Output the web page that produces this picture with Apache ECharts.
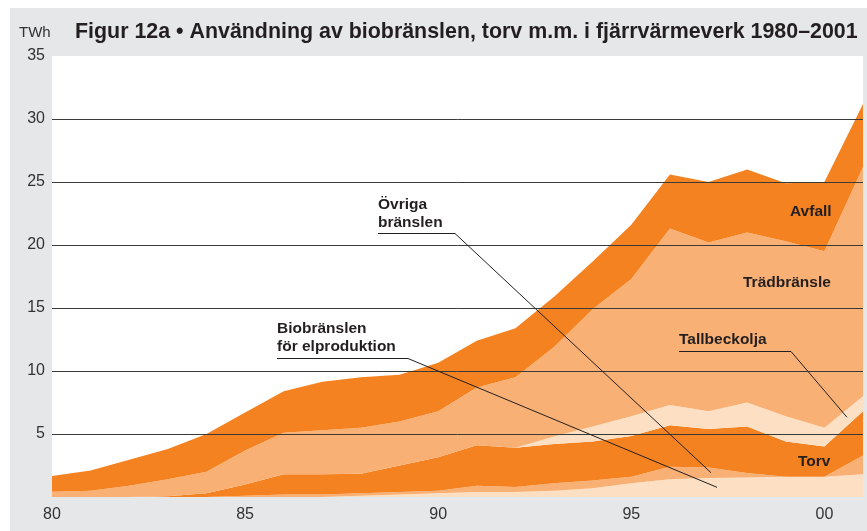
<!DOCTYPE html>
<html>
<head>
<meta charset="utf-8">
<script src="https://cdn.jsdelivr.net/npm/echarts@6/dist/echarts.min.js"></script>
<style>
  html, body { margin: 0; padding: 0; background: #fff; }
  #chart { width: 867px; height: 531px; }
</style>
</head>
<body>
<div id="chart"></div>
<script>
let years = ['1980', '1981', '1982', '1983', '1984', '1985', '1986', '1987', '1988', '1989', '1990',
    '1991', '1992', '1993', '1994', '1995', '1996', '1997', '1998', '1999', '2000', '2001'];

// TWh per layer, bottom to top
let bioEl = [0, 0, 0, 0, 0, 0, 0, 0, 0.1, 0.2, 0.3, 0.4, 0.4, 0.5, 0.7, 1.1, 1.4, 1.5, 1.55, 1.6, 1.6, 1.8];
let ovriga = [0, 0, 0, 0, 0, 0.1, 0.2, 0.2, 0.2, 0.2, 0.2, 0.5, 0.4, 0.6, 0.6, 0.5, 1.0, 0.85, 0.35, 0, 0, 1.5];
let torv = [0, 0, 0, 0.05, 0.3, 0.9, 1.6, 1.6, 1.55, 2.1, 2.65, 3.2, 3.1, 3.1, 3.1, 3.25, 3.3, 3.05, 3.7, 2.8, 2.4, 3.5];
let tallbeckolja = [0, 0, 0, 0, 0, 0, 0, 0, 0, 0, 0, 0, 0, 0.6, 1.2, 1.55, 1.6, 1.4, 1.9, 2.0, 1.5, 1.2];
let tradbransle = [0.42, 0.5, 0.9, 1.35, 1.7, 2.7, 3.3, 3.5, 3.65, 3.5, 3.65, 4.6, 5.6, 7.1, 9.3, 10.9, 14.0, 13.4, 13.5, 13.9, 14.0, 18.2];
let avfall = [1.25, 1.6, 2.05, 2.4, 3.0, 3.0, 3.3, 3.85, 4.0, 3.7, 3.85, 3.7, 3.9, 4.0, 3.8, 4.3, 4.3, 4.8, 5.0, 4.6, 5.5, 5.0];

let dark = '#f58220';
let light = '#f9b074';
let pale = '#fde0c4';
let font = "'Liberation Sans', Arial, sans-serif";

function layer(name, data, color) {
    return {
        name: name,
        type: 'line',
        stack: 'total',
        data: data,
        symbol: 'none',
        silent: true,
        lineStyle: { width: 0 },
        areaStyle: { color: color, opacity: 1 },
        itemStyle: { color: color }
    };
}

function label(text, x, baseline) {
    return {
        type: 'text',
        x: x,
        y: baseline - 5.5,
        z: 20,
        style: {
            text: text,
            font: 'bold 15.5px ' + font,
            fill: '#231f20',
            verticalAlign: 'middle'
        }
    };
}

function leader(points) {
    return {
        type: 'polyline',
        z: 20,
        shape: { points: points },
        style: { stroke: '#231f20', lineWidth: 1, fill: null }
    };
}

let option = {
    animation: false,
    backgroundColor: '#fff',
    textStyle: { fontFamily: font },
    title: {
        text: 'Figur 12a • Användning av biobränslen, torv m.m. i fjärrvärmeverk 1980–2001',
        left: 75,
        top: 22,
        padding: 0,
        textStyle: { fontSize: 21.4, fontWeight: 'bold', color: '#231f20', fontFamily: font }
    },
    grid: {
        left: 52,
        right: 4,
        top: 56,
        bottom: 34,
        show: true,
        backgroundColor: '#fff',
        borderWidth: 0
    },
    xAxis: {
        type: 'category',
        data: years,
        boundaryGap: false,
        axisLine: { show: false },
        axisTick: { show: false },
        axisLabel: {
            interval: 4,
            margin: 10,
            fontSize: 16,
            color: '#333',
            formatter: v => v.slice(2)
        }
    },
    yAxis: {
        type: 'value',
        min: 0,
        max: 35,
        interval: 5,
        z: 5,
        axisLine: { show: false },
        axisTick: { show: false },
        axisLabel: {
            margin: 7,
            fontSize: 16,
            color: '#333',
            formatter: v => (v === 0 ? '' : v)
        },
        splitLine: {
            lineStyle: {
                color: ['rgba(0,0,0,0)', '#3a3a3a', '#3a3a3a', '#3a3a3a', '#3a3a3a', '#3a3a3a', '#3a3a3a', 'rgba(0,0,0,0)'],
                width: 1
            }
        }
    },
    graphic: [
        {
            type: 'rect',
            z: -100,
            shape: { x: 10, y: 8, width: 857, height: 523 },
            style: { fill: '#e6e7e8' }
        },
        {
            type: 'text',
            x: 19,
            y: 33,
            style: { text: 'TWh', font: '15px ' + font, fill: '#333', verticalAlign: 'middle' }
        },
        label('Övriga', 378, 210),
        label('bränslen', 378, 228),
        leader([[378, 233.5], [455, 233.5], [711, 472.7]]),
        label('Biobränslen', 277, 334),
        label('för elproduktion', 277, 352),
        leader([[277, 358.5], [408, 358.5], [717, 487.3]]),
        label('Tallbeckolja', 679, 345),
        leader([[679, 351.5], [791, 351.5], [847, 417.3]]),
        label('Avfall', 790, 217),
        label('Trädbränsle', 743, 288),
        label('Torv', 798, 467)
    ],
    series: [
        layer('Biobränslen för elproduktion', bioEl, pale),
        layer('Övriga bränslen', ovriga, light),
        layer('Torv', torv, dark),
        layer('Tallbeckolja', tallbeckolja, pale),
        layer('Trädbränsle', tradbransle, light),
        layer('Avfall', avfall, dark)
    ]
};

echarts.init(document.getElementById('chart')).setOption(option);
</script>
</body>
</html>
